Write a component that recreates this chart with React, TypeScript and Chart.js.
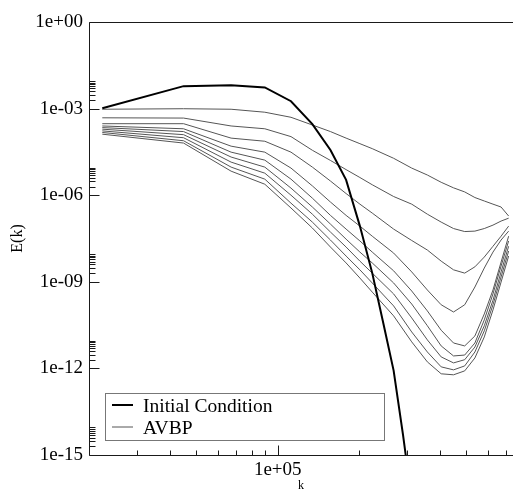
import { useEffect, useRef } from 'react';
import { Chart, registerables } from 'chart.js';
Chart.register(...registerables);

// wavenumbers (k = n * k0, k0 ≈ 22400)
const kIC = [22400, 44800, 67200, 89600, 112000, 134400, 156800, 179200, 201600, 224000, 246400, 268800, 291200, 313600];
const kAVBP = [22400, 44800, 67200, 89600, 112000, 134400, 156800, 179200, 201600, 224000, 268800, 313600, 358400, 403200, 448000, 492800, 537600, 582400, 627200, 672000, 716800];

const initialCondition = [1.03e-3, 6.0e-3, 6.5e-3, 5.4e-3, 1.8e-3, 2.9e-4, 3.7e-5, 3.4e-6, 8.5e-8, 2.0e-9, 3.5e-11, 8.4e-13, 5.0e-15, 2.8e-17];

const avbp1 = [9.5e-4, 9.9e-4, 9.5e-4, 7.5e-4, 5.0e-4, 2.7e-4, 1.6e-4, 9.5e-5, 6.1e-5, 4.1e-5, 1.9e-5, 8.7e-6, 5.0e-6, 2.8e-6, 1.8e-6, 1.3e-6, 8.3e-7, 6.3e-7, 4.9e-7, 3.9e-7, 1.9e-7];
const avbp2 = [4.8e-4, 4.7e-4, 2.5e-4, 2.0e-4, 1.07e-4, 3.6e-5, 1.6e-5, 7.7e-6, 4.1e-6, 2.3e-6, 9.0e-7, 4.9e-7, 2.2e-7, 1.17e-7, 7.0e-8, 5.5e-8, 5.7e-8, 7.0e-8, 9.2e-8, 1.27e-7, 1.6e-7];
const avbp3 = [3.0e-4, 3.0e-4, 9.5e-5, 7.4e-5, 3.1e-5, 9.4e-6, 3.1e-6, 1.14e-6, 4.9e-7, 2.4e-7, 6.7e-8, 2.7e-8, 1.26e-8, 5.2e-9, 2.6e-9, 2.0e-9, 3.3e-9, 7.2e-9, 1.7e-8, 3.8e-8, 8.5e-8];
const avbp4 = [2.5e-4, 2.0e-4, 5.0e-5, 3.1e-5, 8.7e-6, 2.1e-6, 5.8e-7, 2.0e-7, 8.5e-8, 3.8e-8, 9.9e-9, 2.2e-9, 5.2e-10, 1.6e-10, 9.0e-11, 1.6e-10, 6.6e-10, 3.0e-9, 1.07e-8, 2.8e-8, 5.7e-8];
const avbp5 = [2.2e-4, 1.6e-4, 3.1e-5, 1.64e-5, 3.6e-6, 7.9e-7, 2.0e-7, 6.7e-8, 2.6e-8, 1.07e-8, 2.4e-9, 4.8e-10, 9.8e-11, 2.1e-11, 7.6e-12, 6.0e-12, 1.33e-11, 7.7e-11, 5.2e-10, 4.8e-9, 3.8e-8];
const avbp6 = [1.94e-4, 1.25e-4, 2.1e-5, 9.4e-6, 1.76e-6, 3.9e-7, 1.0e-7, 3.0e-8, 1.07e-8, 4.5e-9, 9.1e-10, 1.7e-10, 3.0e-11, 6.0e-12, 2.7e-12, 2.9e-12, 7.6e-12, 4.8e-11, 3.8e-10, 3.5e-9, 2.6e-8];
const avbp7 = [1.69e-4, 9.8e-5, 1.4e-5, 5.8e-6, 1.0e-6, 2.2e-7, 5.3e-8, 1.6e-8, 5.2e-9, 2.0e-9, 3.8e-10, 5.6e-11, 9.7e-12, 2.5e-12, 1.55e-12, 2.0e-12, 5.5e-12, 3.0e-11, 2.3e-10, 2.2e-9, 1.7e-8];
const avbp8 = [1.49e-4, 7.7e-5, 9.4e-6, 3.6e-6, 5.3e-7, 1.17e-7, 2.8e-8, 7.8e-9, 2.6e-9, 9.1e-10, 1.46e-10, 1.83e-11, 3.7e-12, 1.13e-12, 8.9e-13, 1.22e-12, 3.7e-12, 2.0e-11, 1.6e-10, 1.47e-9, 1.16e-8];
const avbp9 = [1.3e-4, 6.4e-5, 6.8e-6, 2.4e-6, 3.6e-7, 7.3e-8, 1.6e-8, 4.5e-9, 1.35e-9, 4.4e-10, 6.6e-11, 8.3e-12, 1.68e-12, 6.5e-13, 6.0e-13, 8.2e-13, 2.3e-12, 1.23e-11, 1.06e-10, 9.8e-10, 7.8e-9];
const avbpSeries = [avbp1, avbp2, avbp3, avbp4, avbp5, avbp6, avbp7, avbp8, avbp9];

const legendLabels = ['Initial Condition', 'AVBP'];

const xMin = 2e4;
const xMax = 7.44e5;
const xMajorTicks = [1e5];
const xTickLabels = ['1e+05'];
const xMinorTicks = [3e4, 4e4, 5e4, 6e4, 7e4, 8e4, 9e4, 2e5, 3e5, 4e5, 5e5, 6e5, 7e5];

const yMajorTicks = [1, 1e-3, 1e-6, 1e-9, 1e-12, 1e-15];
const yTickLabels = ['1e+00', '1e-03', '1e-06', '1e-09', '1e-12', '1e-15'];
const yMinorMultipliers = [2, 3, 4, 5, 6, 7, 8, 9];

const FONT = "'Liberation Serif', 'Times New Roman', serif";

const decorPlugin = {
  id: 'decor',
  afterDraw(chart: any) {
    const ctx = chart.ctx;
    const { left, right, top, bottom } = chart.chartArea;
    const xs = chart.scales.x;
    const ys = chart.scales.y;
    ctx.save();
    ctx.strokeStyle = '#1a1a1a';
    ctx.lineWidth = 1;
    const L = Math.round(left) + 0.5;
    const T = Math.round(top) + 0.5;
    const B = Math.round(bottom) + 0.5;
    const seg = (x1: number, y1: number, x2: number, y2: number) => {
      ctx.beginPath(); ctx.moveTo(x1, y1); ctx.lineTo(x2, y2); ctx.stroke();
    };
    seg(L, T, right + 2, T);
    seg(L, T, L, B);
    seg(L, B, right + 2, B);
    yMajorTicks.forEach((v) => {
      const y = Math.round(ys.getPixelForValue(v)) + 0.5;
      seg(L, y, L + 10, y);
    });
    yMajorTicks.forEach((v) => {
      yMinorMultipliers.forEach((m) => {
        const val = v * m;
        if (val > ys.max) return;
        const y = Math.round(ys.getPixelForValue(val)) + 0.5;
        seg(L, y, L + 6, y);
      });
    });
    xMajorTicks.forEach((v) => {
      const x = Math.round(xs.getPixelForValue(v)) + 0.5;
      seg(x, B, x, B - 10);
    });
    xMinorTicks.forEach((v) => {
      const x = Math.round(xs.getPixelForValue(v)) + 0.5;
      seg(x, B, x, B - 5);
    });

    // legend box
    const bx = 105.5, by = 393.5, bw = 279, bh = 47;
    ctx.fillStyle = '#ffffff';
    ctx.fillRect(bx, by, bw, bh);
    ctx.strokeStyle = '#777777';
    ctx.strokeRect(bx, by, bw, bh);
    const ds = chart.data.datasets;
    const rows = [
      { y: 405, color: ds[0].borderColor, w: ds[0].borderWidth, text: legendLabels[0], base: 412 },
      { y: 427, color: ds[1].borderColor, w: ds[1].borderWidth, text: legendLabels[1], base: 434 },
    ];
    ctx.font = `19.5px ${FONT}`;
    ctx.textBaseline = 'alphabetic';
    ctx.textAlign = 'left';
    rows.forEach((r) => {
      ctx.strokeStyle = r.color;
      ctx.lineWidth = r.w;
      seg(112, r.y, 133, r.y);
      ctx.fillStyle = '#000';
      ctx.fillText(r.text, 143, r.base);
    });
    ctx.restore();
  },
};

export default function App() {
  const ref = useRef<HTMLCanvasElement | null>(null);
  useEffect(() => {
    if (!ref.current) return;
    const datasets: any[] = [
      {
        label: legendLabels[0],
        data: kIC.map((k, i) => ({ x: k, y: initialCondition[i] })),
        borderColor: '#000000',
        borderWidth: 2,
        pointRadius: 0,
        tension: 0,
        fill: false,
      },
      ...avbpSeries.map((s) => ({
        label: legendLabels[1],
        data: kAVBP.map((k, i) => ({ x: k, y: s[i] })),
        borderColor: '#555555',
        borderWidth: 1,
        pointRadius: 0,
        tension: 0,
        fill: false,
      })),
    ];
    const chart = new Chart(ref.current, {
      type: 'line',
      data: { datasets },
      options: {
        responsive: false,
        animation: false,
        layout: { padding: { top: 22, right: 0, left: 0, bottom: 0 } },
        plugins: { legend: { display: false }, tooltip: { enabled: false } },
        scales: {
          x: {
            type: 'logarithmic',
            min: xMin,
            max: xMax,
            afterBuildTicks: (s: any) => {
              s.ticks = xMajorTicks.map((v) => ({ value: v }));
            },
            afterFit: (s: any) => {
              s.height = 37;
            },
            ticks: {
              callback: (_v: any, i: number) => xTickLabels[i],
              font: { family: FONT, size: 19 },
              color: '#000',
              padding: 4,
              maxRotation: 0,
              autoSkip: false,
            },
            grid: { display: false, drawTicks: false },
            border: { display: false },
            title: {
              display: true,
              text: 'k',
              font: { family: FONT, size: 12, lineHeight: 1 },
              color: '#000',
              padding: { top: -2, bottom: 0 },
            },
          },
          y: {
            type: 'logarithmic',
            min: 1e-15,
            max: 1,
            afterBuildTicks: (s: any) => {
              s.ticks = yMajorTicks.map((v) => ({ value: v }));
            },
            afterFit: (s: any) => {
              s.width = 89;
            },
            ticks: {
              callback: (_v: any, i: number) => yTickLabels[i],
              font: { family: FONT, size: 19 },
              color: '#000',
              padding: 6,
              autoSkip: false,
            },
            grid: { display: false, drawTicks: false },
            border: { display: false },
            title: {
              display: true,
              text: 'E(k)',
              font: { family: FONT, size: 16 },
              color: '#000',
              padding: { top: 8, bottom: 0 },
            },
          },
        },
      },
      plugins: [decorPlugin],
    });
    return () => chart.destroy();
  }, []);
  return (
    <div style={{ position: 'fixed', left: 0, top: 0, width: 513, height: 492, overflow: 'hidden', background: '#fff' }}>
      <canvas ref={ref} width={513} height={492} style={{ display: 'block', width: 513, height: 492 }} />
    </div>
  );
}
